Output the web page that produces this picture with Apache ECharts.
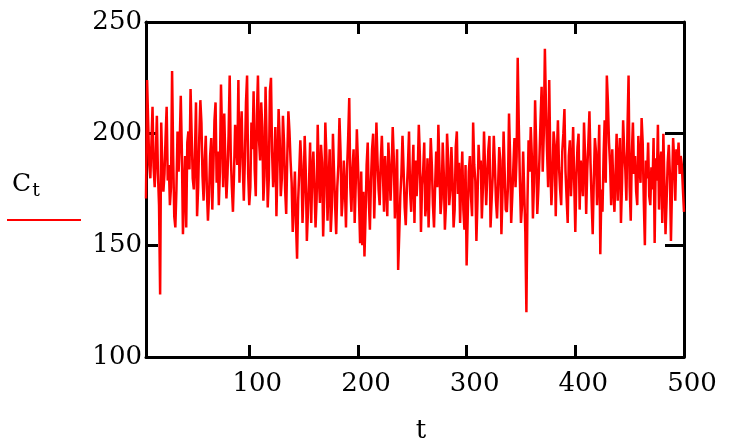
<!DOCTYPE html>
<html>
<head>
<meta charset="utf-8">
<script src="https://cdn.jsdelivr.net/npm/echarts@6/dist/echarts.min.js"></script>
<style>
html,body{margin:0;padding:0;background:#fff;}
#chart{width:742px;height:443px;}
</style>
</head>
<body>
<div id="chart"></div>
<script>
// Series C_t (t runs from 5 to 500)
var cValues = [
171,224,205,186,180,196,212,185,176,190,208,182,168,128,205,186,174,182,198,212,
179,186,168,176,228,190,163,158,175,201,183,195,217,192,155,176,190,158,196,201,
184,220,200,180,175,190,214,163,176,198,215,205,181,170,188,199,175,161,172,190,
198,166,185,206,214,178,192,168,183,222,200,176,209,188,171,182,200,226,190,176,
165,182,204,196,186,224,178,199,210,186,170,189,214,226,182,168,176,205,193,219,
184,172,208,226,197,188,214,203,170,181,221,196,167,180,219,225,192,176,185,203,
163,186,211,198,172,180,208,196,175,164,190,210,201,188,178,156,170,183,160,144,
170,183,197,186,160,174,199,183,152,165,178,196,160,183,192,176,158,171,204,181,
169,195,187,154,172,205,190,161,178,193,156,167,200,183,168,155,176,186,207,192,
163,171,188,176,158,184,198,216,176,165,184,193,160,178,202,187,170,151,183,150,
174,145,163,186,196,170,157,179,193,200,162,183,205,188,175,168,188,199,182,165,
190,178,163,196,184,170,184,203,189,162,176,193,139,155,172,182,199,184,167,159,
175,186,201,174,165,181,195,160,188,172,183,204,190,156,177,183,196,163,170,189,
158,178,198,186,168,158,176,192,176,204,185,164,171,196,182,157,168,200,189,168,
175,194,180,158,166,194,201,173,187,160,178,192,166,157,186,141,163,183,190,172,
163,205,186,179,152,170,195,184,188,162,176,201,184,168,181,193,199,158,170,181,
199,186,170,162,177,194,188,155,173,201,183,166,165,176,209,190,160,172,185,198,
176,190,234,204,179,160,168,192,174,156,120,170,197,183,203,190,162,178,215,195,
164,175,189,206,221,183,200,238,212,192,176,224,188,168,180,201,195,163,190,206,
185,175,168,192,200,211,183,171,160,190,197,172,185,203,178,156,181,194,200,166,
188,180,172,205,190,164,184,196,210,187,170,155,179,198,192,168,183,204,146,175,
165,190,206,178,226,214,196,186,168,193,176,165,182,200,170,188,198,160,178,206,
192,184,170,202,226,176,161,191,205,182,190,174,168,199,186,178,207,196,170,150,
188,180,196,172,168,185,175,198,151,189,179,204,166,186,192,160,200,178,155,170,
187,195,182,152,176,198,188,170,193,186,196,182,190,186,175,165
];
var tStart = 5;
var xTicks = [100, 200, 300, 400, 500];

var seriesData = cValues.map(function (v, i) { return [tStart + i, v]; });

var FONT = 'DejaVu Serif';
var axisLineStyle = { color: '#000', width: 3 };

var chart = echarts.init(document.getElementById('chart'));
chart.setOption({
  animation: false,
  backgroundColor: '#fff',
  grid: { left: 146, right: 58, top: 22, bottom: 86, containLabel: false },
  xAxis: [{
    type: 'value', min: tStart, max: 500, position: 'bottom',
    axisLine: { show: true, lineStyle: axisLineStyle },
    axisTick: { show: true, inside: true, length: 12, customValues: xTicks, lineStyle: axisLineStyle },
    axisLabel: { show: true, customValues: xTicks, margin: 14, color: '#000',
      fontFamily: FONT, fontSize: 26, padding: [0, 0, 0, 16] },
    splitLine: { show: false }
  }, {
    type: 'value', min: tStart, max: 500, position: 'top',
    axisLine: { show: true, lineStyle: axisLineStyle },
    axisTick: { show: true, inside: true, length: 12, customValues: xTicks, lineStyle: axisLineStyle },
    axisLabel: { show: false },
    splitLine: { show: false }
  }],
  yAxis: [{
    type: 'value', min: 100, max: 250, interval: 50, position: 'left',
    axisLine: { show: true, lineStyle: axisLineStyle },
    axisTick: { show: true, inside: true, length: 12, lineStyle: axisLineStyle },
    axisLabel: { show: true, margin: 4, color: '#000', fontFamily: FONT, fontSize: 26,
      padding: [6, 0, 0, 0] },
    splitLine: { show: false }
  }, {
    type: 'value', min: 100, max: 250, interval: 50, position: 'right',
    axisLine: { show: true, lineStyle: axisLineStyle },
    axisTick: { show: true, inside: true, length: 19, lineStyle: axisLineStyle },
    axisLabel: { show: false },
    splitLine: { show: false }
  }],
  series: [{
    name: 'Ct',
    type: 'line',
    xAxisIndex: 0,
    yAxisIndex: 0,
    data: seriesData,
    showSymbol: false,
    symbol: 'none',
    lineStyle: { color: '#ff0000', width: 2.5 },
    clip: true,
    z: 1
  }],
  graphic: [{
    type: 'text', left: 12, top: 172,
    style: {
      text: '{c|C}{s|t}',
      rich: {
        c: { fontFamily: FONT, fontSize: 25, fill: '#000' },
        s: { fontFamily: FONT, fontSize: 19, fill: '#000', padding: [14, 0, 0, 1] }
      }
    }
  }, {
    type: 'line',
    shape: { x1: 7, y1: 220, x2: 81, y2: 220 },
    style: { stroke: '#ff0000', lineWidth: 2 }
  }, {
    type: 'text', x: 421, y: 431,
    style: { text: 't', fontFamily: FONT, fontSize: 26, fill: '#000', align: 'center', verticalAlign: 'middle' }
  }]
});
</script>
</body>
</html>
